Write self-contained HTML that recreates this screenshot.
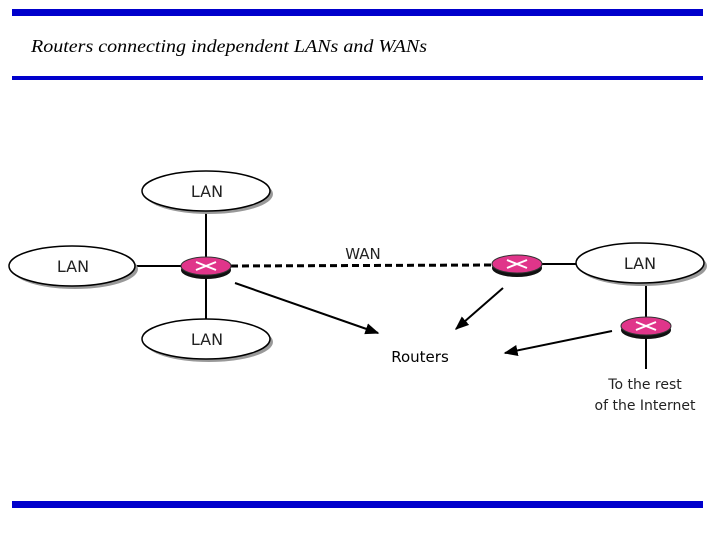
<!DOCTYPE html>
<html><head><meta charset="utf-8"><style>body{margin:0;background:#fff}svg{display:block}</style></head><body>
<svg width="720" height="540" viewBox="0 0 720 540" xmlns="http://www.w3.org/2000/svg">
<defs>
<marker id="ah" viewBox="0 0 10 10" refX="9" refY="5" markerWidth="7" markerHeight="7" orient="auto"><path d="M0,1 L10,5 L0,9 z" fill="#000"/></marker>
</defs>
<rect x="12" y="9" width="691" height="7" fill="#0000cc"/>
<rect x="12" y="76" width="691" height="4" fill="#0000cc"/>
<rect x="12" y="501" width="691" height="7" fill="#0000cc"/>
<text x="31" y="52" font-family="Liberation Serif, serif" font-style="italic" font-size="18" textLength="396" lengthAdjust="spacingAndGlyphs">Routers connecting independent LANs and WANs</text>
<g stroke="#000" stroke-width="2">
<line x1="135" y1="266" x2="182" y2="266"/>
<line x1="206" y1="211" x2="206" y2="260"/>
<line x1="206" y1="274" x2="206" y2="320"/>
<line x1="231" y1="266" x2="493" y2="265" stroke-dasharray="7,4" stroke-width="3"/>
<line x1="541" y1="264" x2="577" y2="264"/>
<line x1="646" y1="283" x2="646" y2="319"/>
<line x1="646" y1="333" x2="646" y2="369"/>
<line x1="235" y1="283" x2="378" y2="333" marker-end="url(#ah)"/>
<line x1="503" y1="288" x2="456" y2="329" marker-end="url(#ah)"/>
<line x1="612" y1="331" x2="505" y2="353" marker-end="url(#ah)"/>
</g>
<g stroke="#000" stroke-width="1.5" fill="#fff">
<ellipse cx="209" cy="194" rx="64" ry="20" fill="#999" stroke="none"/>
<ellipse cx="206" cy="191" rx="64" ry="20"/>
<ellipse cx="75" cy="269" rx="63" ry="20" fill="#999" stroke="none"/>
<ellipse cx="72" cy="266" rx="63" ry="20"/>
<ellipse cx="209" cy="342" rx="64" ry="20" fill="#999" stroke="none"/>
<ellipse cx="206" cy="339" rx="64" ry="20"/>
<ellipse cx="643" cy="266" rx="64" ry="20" fill="#999" stroke="none"/>
<ellipse cx="640" cy="263" rx="64" ry="20"/>
</g>
<g font-family="DejaVu Sans, sans-serif" font-size="16" text-anchor="middle" fill="#222">
<text x="207" y="197">LAN</text>
<text x="73" y="272">LAN</text>
<text x="207" y="345">LAN</text>
<text x="640" y="269">LAN</text>
<text x="363" y="259" font-size="15">WAN</text>
<text x="645" y="389" font-size="14">To the rest</text>
<text x="645" y="410" font-size="14">of the Internet</text>
</g>
<text x="420" y="362" font-family="DejaVu Sans, sans-serif" font-size="15" text-anchor="middle">Routers</text>
<g>
<ellipse cx="206" cy="270" rx="25" ry="9" fill="#111"/>
<ellipse cx="206" cy="266" rx="25" ry="9" fill="#e0358a" stroke="#333"/>
<path d="M196,262 L216,270 M196,270 L216,262" stroke="#fff" stroke-width="2"/>
<ellipse cx="517" cy="268" rx="25" ry="9" fill="#111"/>
<ellipse cx="517" cy="264" rx="25" ry="9" fill="#e0358a" stroke="#333"/>
<path d="M507,260 L527,268 M507,268 L527,260" stroke="#fff" stroke-width="2"/>
<ellipse cx="646" cy="330" rx="25" ry="9" fill="#111"/>
<ellipse cx="646" cy="326" rx="25" ry="9" fill="#e0358a" stroke="#333"/>
<path d="M636,322 L656,330 M636,330 L656,322" stroke="#fff" stroke-width="2"/>
</g>
</svg>
</body></html>
